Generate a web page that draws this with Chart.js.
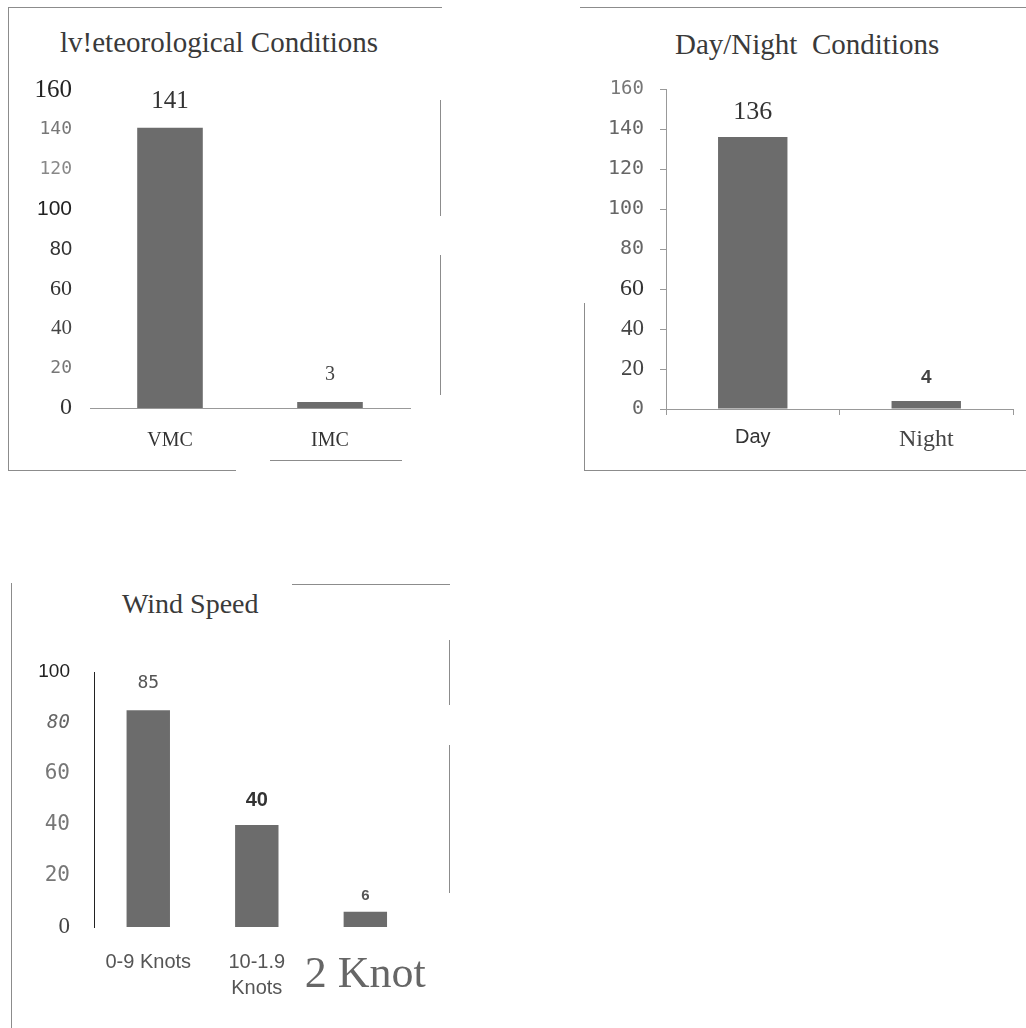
<!DOCTYPE html>
<html>
<head>
<meta charset="utf-8">
<script src="https://cdn.jsdelivr.net/npm/chart.js"></script>
<style>
  body { margin: 0; background: #fff; width: 1026px; height: 1028px; position: relative; overflow: hidden; }
  .box { position: absolute; }
  .ln { position: absolute; background: #8c8c8c; }
  .title { position: absolute; font-family: 'Liberation Serif', serif; font-size: 29px; color: #3a3a3a; white-space: nowrap; }
</style>
</head>
<body>

<!-- frame lines (scan borders) -->
<div class="ln" style="left:8px;top:7px;width:434px;height:1px"></div>
<div class="ln" style="left:8px;top:7px;width:1px;height:464px"></div>
<div class="ln" style="left:8px;top:470px;width:228px;height:1px"></div>
<div class="ln" style="left:270px;top:460px;width:132px;height:1px"></div>
<div class="ln" style="left:440px;top:100px;width:1px;height:116px"></div>
<div class="ln" style="left:440px;top:255px;width:1px;height:140px"></div>

<div class="ln" style="left:580px;top:7px;width:446px;height:1px"></div>
<div class="ln" style="left:584px;top:303px;width:1px;height:168px"></div>
<div class="ln" style="left:584px;top:470px;width:442px;height:1px"></div>

<div class="ln" style="left:11px;top:583px;width:1px;height:445px"></div>
<div class="ln" style="left:292px;top:584px;width:158px;height:1px"></div>
<div class="ln" style="left:449px;top:640px;width:1px;height:65px"></div>
<div class="ln" style="left:449px;top:745px;width:1px;height:148px"></div>

<div class="title" style="left:60px;top:26px">lv!eteorological Conditions</div>
<div class="title" style="left:675px;top:28px">Day/Night&nbsp; Conditions</div>
<div class="title" style="left:122px;top:588px;font-size:28px">Wind Speed</div>

<div class="box" style="left:8px;top:8px"><canvas id="metChart" width="434" height="462"></canvas></div>
<div class="box" style="left:584px;top:8px"><canvas id="dayChart" width="442" height="462"></canvas></div>
<div class="box" style="left:12px;top:585px"><canvas id="windChart" width="440" height="443"></canvas></div>

<script>
// ===== Data =====
const metLabels = ['VMC', 'IMC'];
const metValues = [141, 3];
const metTicks = [0, 20, 40, 60, 80, 100, 120, 140, 160];

const dayLabels = ['Day', 'Night'];
const dayValues = [136, 4];
const dayTicks = [0, 20, 40, 60, 80, 100, 120, 140, 160];

const windLabels = ['0-9 Knots', ['10-1.9', 'Knots'], '2 Knot'];
const windValues = [85, 40, 6];
const windTicks = [0, 20, 40, 60, 80, 100];

// ===== Fonts =====
const SERIF = "'Liberation Serif', serif";
const SANS = "'Liberation Sans', Arial, sans-serif";
const MONO = "'DejaVu Sans Mono', monospace";
const BAR = '#6c6c6c';

// ===== value labels above bars =====
const valueLabels = {
  id: 'valueLabels',
  afterDatasetsDraw(chart, args, opts) {
    const ctx = chart.ctx;
    const values = chart.data.datasets[0].data;
    chart.getDatasetMeta(0).data.forEach((bar, i) => {
      const s = opts.styles[i];
      ctx.save();
      ctx.font = s.font;
      ctx.fillStyle = s.color;
      ctx.textAlign = 'center';
      ctx.textBaseline = 'bottom';
      ctx.fillText(values[i], bar.x, bar.y - s.gap);
      ctx.restore();
    });
  }
};

function makeChart(id, cfg) {
  return new Chart(document.getElementById(id), {
    type: 'bar',
    data: {
      labels: cfg.labels,
      datasets: [{
        data: cfg.values,
        backgroundColor: BAR,
        borderWidth: 0,
        barPercentage: cfg.barPct,
        categoryPercentage: 1
      }]
    },
    plugins: [valueLabels],
    options: {
      responsive: false,
      animation: false,
      events: [],
      layout: { padding: cfg.padding },
      plugins: {
        legend: { display: false },
        tooltip: { enabled: false },
        valueLabels: { styles: cfg.valueStyles }
      },
      scales: {
        x: {
          grid: { display: cfg.xGrid, drawOnChartArea: false, drawTicks: cfg.xGrid, tickLength: 6, color: '#999' },
          border: { display: cfg.xBorder, color: '#999' },
          ticks: {
            padding: cfg.xPad, autoSkip: false, maxRotation: 0, minRotation: 0,
            color: c => cfg.xColors[c.index], font: c => cfg.xFonts[c.index]
          },
          afterFit: s => { s.height = cfg.xHeight; }
        },
        y: {
          min: 0,
          max: cfg.yTicks[cfg.yTicks.length - 1],
          afterBuildTicks: s => { s.ticks = cfg.yTicks.map(v => ({ value: v })); },
          grid: { display: cfg.yGrid, drawOnChartArea: false, drawTicks: cfg.yGrid, tickLength: 6, color: '#999' },
          border: { display: cfg.yBorder, color: cfg.yBorderColor },
          ticks: { padding: cfg.yPad, color: c => cfg.yColors[c.index], font: c => cfg.yFonts[c.index] },
          afterFit: s => { s.width = 82; }
        }
      }
    }
  });
}

// ===== Meteorological Conditions =====
makeChart('metChart', {
  labels: metLabels, values: metValues, yTicks: metTicks, barPct: 0.41,
  padding: { top: 82, right: 32, bottom: 0, left: 0 },
  xHeight: 62, xPad: 21, xGrid: false, xBorder: true,
  xColors: ['#333', '#333'],
  xFonts: [{ family: SERIF, size: 20 }, { family: SERIF, size: 20 }],
  yGrid: false, yBorder: false, yBorderColor: '#999', yPad: 18,
  yColors: ['#333', '#777', '#444', '#333', '#333', '#222', '#888', '#777', '#222'],
  yFonts: [
    { family: SERIF, size: 24 }, { family: MONO, size: 18 }, { family: SERIF, size: 21 },
    { family: SERIF, size: 22 }, { family: SANS, size: 20 }, { family: SANS, size: 21 },
    { family: MONO, size: 18 }, { family: MONO, size: 18 }, { family: SERIF, size: 25 }
  ],
  valueStyles: [
    { font: `25px ${SERIF}`, color: '#333', gap: 14 },
    { font: `20px ${SERIF}`, color: '#444', gap: 17 }
  ]
});

// ===== Day/Night Conditions =====
makeChart('dayChart', {
  labels: dayLabels, values: dayValues, yTicks: dayTicks, barPct: 0.4,
  padding: { top: 81, right: 13, bottom: 0, left: 0 },
  xHeight: 61, xPad: 10, xGrid: true, xBorder: true,
  xColors: ['#333', '#444'],
  xFonts: [{ family: SANS, size: 20 }, { family: SERIF, size: 24 }],
  yGrid: true, yBorder: true, yBorderColor: '#999', yPad: 16,
  yColors: ['#666', '#444', '#444', '#333', '#666', '#666', '#666', '#666', '#777'],
  yFonts: [
    { family: MONO, size: 20 }, { family: SERIF, size: 23 }, { family: SERIF, size: 23 },
    { family: SERIF, size: 24 }, { family: MONO, size: 20 }, { family: MONO, size: 20 },
    { family: MONO, size: 20 }, { family: MONO, size: 20 }, { family: MONO, size: 19 }
  ],
  valueStyles: [
    { font: `26px ${SERIF}`, color: '#333', gap: 12 },
    { font: `bold 19px ${SANS}`, color: '#444', gap: 14 }
  ]
});

// ===== Wind Speed =====
makeChart('windChart', {
  labels: windLabels, values: windValues, yTicks: windTicks, barPct: 0.4,
  padding: { top: 87, right: 25, bottom: 0, left: 0 },
  xHeight: 101, xPad: 22, xGrid: false, xBorder: false,
  xColors: ['#555', '#555', '#666'],
  xFonts: [
    { family: SANS, size: 20, lineHeight: 1.3 },
    { family: SANS, size: 20, lineHeight: 1.3 },
    { family: SERIF, size: 44, lineHeight: 1.2 }
  ],
  yGrid: false, yBorder: true, yBorderColor: '#222', yPad: 24,
  yColors: ['#444', '#777', '#777', '#777', '#666', '#222'],
  yFonts: [
    { family: SERIF, size: 23 }, { family: MONO, size: 21 }, { family: MONO, size: 21 },
    { family: MONO, size: 21 }, { family: MONO, size: 19, style: 'italic' }, { family: SANS, size: 19 }
  ],
  valueStyles: [
    { font: `18px ${MONO}`, color: '#555', gap: 18 },
    { font: `bold 20px ${SANS}`, color: '#333', gap: 15 },
    { font: `bold 15px ${SANS}`, color: '#555', gap: 8 }
  ]
});
</script>
</body>
</html>
